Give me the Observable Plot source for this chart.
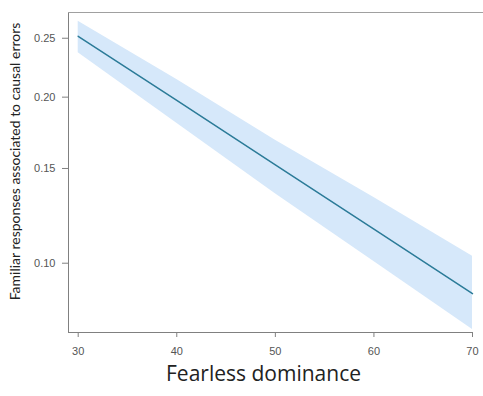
<!DOCTYPE html>
<html>
<head>
<meta charset="utf-8">
<script src="https://cdn.jsdelivr.net/npm/d3@7"></script>
<script src="https://cdn.jsdelivr.net/npm/@observablehq/plot@0.6"></script>
<style>
  html, body { margin: 0; padding: 0; background: #fff; }
</style>
</head>
<body>
<div id="chart"></div>
<script>
// Data (predicted probability with 95% CI, logit scale)
const fearless = [30, 40, 50, 60, 70];
const fit      = [0.2518, 0.1974, 0.1522, 0.1160, 0.0874];
const upper    = [0.2659, 0.2141, 0.1684, 0.1328, 0.1031];
const lower    = [0.2369, 0.1804, 0.1350, 0.1007, 0.0744];
const xTicks = [30, 40, 50, 60, 70];
const yTicks = [0.10, 0.15, 0.20, 0.25];
const xDomain = [29.016, 71.116];
const yDomain = [0.0734, 0.2743];
const xTitle = "Fearless dominance";
const yTitle = "Familiar responses associated to causal errors";

const logit = p => Math.log(p / (1 - p));
const rows = fearless.map((x, i) => ({x, fit: fit[i], lo: lower[i], hi: upper[i]}));

const chart = Plot.plot({
  width: 483,
  height: 396,
  marginLeft: 68,
  marginRight: 0,
  marginTop: 12,
  marginBottom: 64,
  style: {background: "#fff", fontFamily: "Liberation Sans, Arial, sans-serif"},
  x: {domain: xDomain},
  y: {transform: logit, domain: yDomain.map(logit)},
  marks: [
    Plot.areaY(rows, {x: "x", y1: "lo", y2: "hi", fill: "#d6e8fa", curve: "linear"}),
    Plot.lineY(rows, {x: "x", y: "fit", stroke: "#2b7b98", strokeWidth: 1.5}),
    Plot.frame({anchor: "left", stroke: "#808080"}),
    Plot.frame({anchor: "top", stroke: "#a0a0a0"}),
    Plot.ruleY([yDomain[0]], {x1: xDomain[0], x2: xTicks[xTicks.length - 1], stroke: "#808080"}),
    Plot.axisY(yTicks, {tickSize: 6, tickPadding: 7, tickFormat: d => d.toFixed(2), fontSize: 11, stroke: "#808080", fill: "#555", label: null}),
    Plot.axisX(xTicks, {tickSize: 5, tickPadding: 10, fontSize: 11, stroke: "#808080", fill: "#555", label: null}),
    Plot.text([yTitle], {frameAnchor: "left", textAnchor: "middle", rotate: -90, dx: -53, dy: -11, fontSize: 14, fontFamily: "Lato", fill: "#222"}),
    Plot.text([xTitle], {frameAnchor: "bottom", textAnchor: "middle", dx: -12.5, dy: 48, fontSize: 21, fontFamily: "Open Sans", fill: "#222"})
  ]
});
document.getElementById("chart").appendChild(chart);
</script>
</body>
</html>
